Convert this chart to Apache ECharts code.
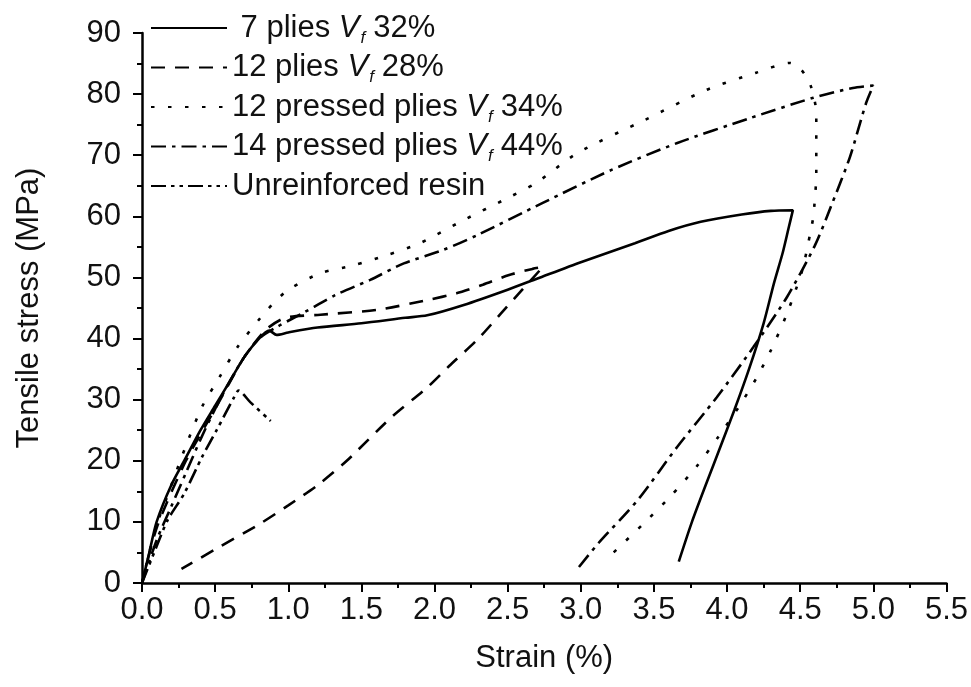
<!DOCTYPE html>
<html>
<head>
<meta charset="utf-8">
<title>Tensile stress vs strain</title>
<script src="https://cdn.jsdelivr.net/npm/echarts@6/dist/echarts.min.js"></script>
<style>
  html, body { margin: 0; padding: 0; background: #fff; }
  #chart { width: 971px; height: 687px; }
</style>
</head>
<body>
<div id="chart"></div>
<script>
// [strain %, stress MPa]
const plies7 = [
  [0, 0], [0.05, 5], [0.1, 10], [0.2, 16], [0.3, 20.5], [0.4, 25], [0.5, 29], [0.6, 33],
  [0.7, 37], [0.8, 40], [0.87, 41.3], [0.92, 40.6], [1.0, 41], [1.2, 41.8], [1.5, 42.5],
  [1.8, 43.4], [1.95, 43.8], [2.2, 45.5], [2.5, 48], [2.7, 49.8], [3.0, 52.5], [3.37, 55.6],
  [3.6, 57.6], [3.82, 59.1], [4.1, 60.3], [4.3, 60.9], [4.45, 61],
  [4.42, 58], [4.38, 54], [4.32, 49], [4.25, 42.5], [4.15, 35], [4.05, 28.3], [3.95, 22],
  [3.86, 16.4], [3.76, 10], [3.67, 3.5]
]
const plies12 = [
  [0, 0], [0.1, 9], [0.3, 20], [0.5, 28.5], [0.7, 37], [0.85, 41.5], [0.98, 43.4],
  [1.22, 43.9], [1.61, 44.7], [1.95, 46.3], [2.15, 47.4], [2.33, 48.8], [2.51, 50.4],
  [2.67, 51.4], [2.74, 51.7],
  [2.6, 48], [2.45, 44], [2.3, 40], [2.1, 35.5], [1.95, 32], [1.7, 27], [1.4, 20],
  [1.2, 16], [1.0, 12.7], [0.8, 9.6], [0.5, 5.5], [0.27, 2.3]
]
const pressed12 = [
  [0, 0], [0.05, 5], [0.1, 9.5], [0.17, 14], [0.29, 21.8], [0.41, 28.8], [0.53, 33.7],
  [0.65, 38.5], [0.81, 43.4], [0.9, 45.8], [1.0, 48], [1.22, 50.7], [1.45, 52], [1.68, 53.7],
  [1.9, 55.6], [2.2, 59.4], [2.5, 63], [2.69, 65.4], [2.98, 70.4], [3.44, 75.8], [3.86, 80.7],
  [4.2, 83.5], [4.43, 85.1], [4.5, 84.2], [4.57, 81.5], [4.61, 76.9], [4.61, 67], [4.59, 60],
  [4.57, 57.4], [4.52, 51.7], [4.47, 48], [4.4, 43.5], [4.3, 38.1], [4.2, 33.5], [4.08, 28.8],
  [3.94, 23.9], [3.79, 19], [3.61, 14.1], [3.42, 9.5], [3.22, 4.9]
]
const pressed14 = [
  [0, 0], [0.1, 7], [0.2, 12.5], [0.3, 18], [0.4, 23.5], [0.5, 28.5], [0.6, 33], [0.7, 37],
  [0.8, 40], [0.93, 42], [1.11, 44.3], [1.32, 47.1], [1.56, 49.6], [1.79, 52.3], [2.06, 54.5],
  [2.29, 56.9], [2.74, 62.2], [3.21, 67.6], [3.66, 72], [4.16, 76.1], [4.59, 79.4],
  [4.86, 81], [5.0, 81.4],
  [4.95, 78.5], [4.84, 69.7], [4.72, 62.2], [4.6, 55.2], [4.41, 46.8], [4.18, 38.6],
  [3.93, 30.4], [3.66, 22.3], [3.39, 13.6], [3.12, 6.5], [2.98, 2.4]
]
const resin = [
  [0, 0], [0.1, 6], [0.175, 10.3], [0.29, 14.7], [0.41, 20.6], [0.51, 25], [0.63, 30.4],
  [0.66, 31.5], [0.74, 29.6], [0.88, 26.5]
]

const seriesNames = ['7 plies', '12 plies', '12 pressed plies', '14 pressed plies', 'Unreinforced resin']
const seriesData = [plies7, plies12, pressed12, pressed14, resin]
const legendLabels = [
  ' 7 plies {v|V}{s|f}{n|32%}',
  '12 plies {v|V}{s|f}{n|28%}',
  '12 pressed plies {v|V}{s|f}{n|34%}',
  '14 pressed plies {v|V}{s|f}{n|44%}',
  'Unreinforced resin'
]
const dashTypes = ['solid', [14, 10], [3.5, 13.5], [15, 6, 3.5, 6], [15, 5, 3.5, 5, 3.5, 5]]

const font = 'Liberation Sans, Arial, sans-serif'
const chart = echarts.init(document.getElementById('chart'))

chart.setOption({
  animation: false,
  backgroundColor: '#fff',
  grid: { left: 142, right: 16, top: 33, bottom: 104 },
  legend: {
    orient: 'vertical',
    left: 145,
    top: 5,
    itemWidth: 76,
    itemHeight: 14,
    itemGap: 3,
    textGap: 10,
    data: seriesNames,
    itemStyle: { opacity: 0 },
    formatter: name => legendLabels[seriesNames.indexOf(name)],
    textStyle: {
      color: '#111',
      fontFamily: font,
      fontSize: 31,
      lineHeight: 36,
      rich: {
        n: { fontSize: 31, fontFamily: font, color: '#111' },
        v: { fontSize: 31, fontFamily: font, fontStyle: 'italic', color: '#111' },
        s: { fontSize: 17, fontFamily: font, fontStyle: 'italic', color: '#111', padding: [20, 8, 0, 1] }
      }
    }
  },
  xAxis: {
    type: 'value',
    min: 0,
    max: 5.5,
    interval: 0.5,
    name: 'Strain (%)',
    nameLocation: 'middle',
    nameGap: 60,
    nameTextStyle: { fontFamily: font, fontSize: 31, color: '#111' },
    axisLine: { show: true, lineStyle: { color: '#000', width: 2.5 } },
    axisTick: { show: true, inside: false, length: 9, lineStyle: { color: '#000', width: 2 } },
    minorTick: { show: true, splitNumber: 2, length: 5, lineStyle: { color: '#000', width: 2 } },
    splitLine: { show: false },
    axisLabel: {
      margin: 12,
      fontFamily: font,
      fontSize: 31,
      color: '#111',
      formatter: v => v.toFixed(1)
    }
  },
  yAxis: {
    type: 'value',
    min: 0,
    max: 90,
    interval: 10,
    name: 'Tensile stress (MPa)',
    nameLocation: 'middle',
    nameGap: 97,
    nameTextStyle: { fontFamily: font, fontSize: 31, color: '#111' },
    axisLine: { show: true, lineStyle: { color: '#000', width: 2.5 } },
    axisTick: { show: true, inside: false, length: 9, lineStyle: { color: '#000', width: 2 } },
    minorTick: { show: true, splitNumber: 2, length: 5, lineStyle: { color: '#000', width: 2 } },
    splitLine: { show: false },
    axisLabel: { margin: 21, fontFamily: font, fontSize: 31, color: '#111' }
  },
  series: seriesData.map((data, i) => ({
    name: seriesNames[i],
    type: 'line',
    data: data,
    symbol: 'none',
    smooth: 0.25,
    itemStyle: { color: '#000' },
    lineStyle: { color: '#000', width: 2.6, type: dashTypes[i] }
  }))
})
</script>
</body>
</html>
